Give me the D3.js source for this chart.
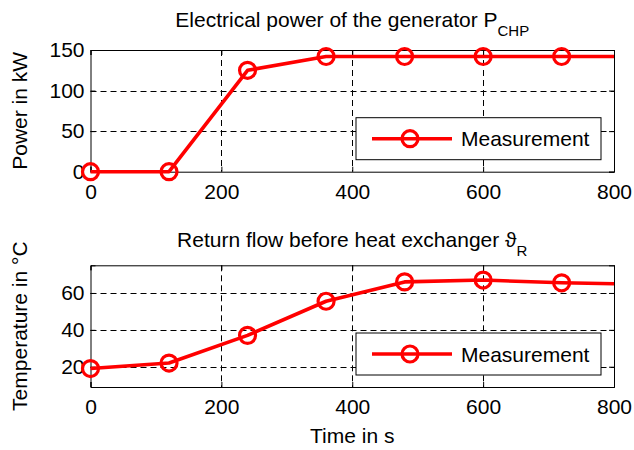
<!DOCTYPE html>
<html>
<head>
<meta charset="utf-8">
<script src="https://cdn.jsdelivr.net/npm/d3@7"></script>
<style>
	body { margin: 0; background: #fff; }
	svg { display: block; font-family: "Liberation Sans", Arial, sans-serif; }
</style>
</head>
<body>
<div id="chart"></div>
<script>
'use strict';

// measurement samples, one every 120 s, last value held to 800 s
const times = [0, 120, 240, 360, 480, 600, 720, 800];
const powerKW = [0, 0, 125, 142, 142, 142, 142, 142];
const returnTemp = [19, 22, 37, 55.5, 66, 67, 65.5, 65];
const markerTimes = [0, 120, 240, 360, 480, 600, 720];

const xTicks = [0, 200, 400, 600, 800];
const powerTicks = [0, 50, 100, 150];
const tempTicks = [20, 40, 60];
const legendLabel = "Measurement";

const width = 634, height = 450;
const red = "#ff0000";

const svg = d3.select("#chart")
	.append("svg")
		.attr("width", width)
		.attr("height", height)
		;

function drawPanel(opt)
{
	const x = d3.scaleLinear()
		.domain([0, 800])
		.range([90.5, 614]);
	const y = d3.scaleLinear()
		.domain(opt.yDomain)
		.range([opt.bottom, opt.top]);

	const g = svg.append("g");
	const [x0, x1] = x.range();

	// dashed grid
	g.append("g")
		.selectAll("line")
		.data(xTicks.filter(t => t > 0 && t < 800))
		.join("line")
			.attr("x1", d => Math.round(x(d)) + 0.5).attr("x2", d => Math.round(x(d)) + 0.5)
			.attr("y1", opt.top).attr("y2", opt.bottom)
			.attr("stroke", "#000")
			.attr("stroke-width", 1)
			.attr("stroke-dasharray", "6,4")
			;
	g.append("g")
		.selectAll("line")
		.data(opt.yTicks.filter(t => t > opt.yDomain[0] && t < opt.yDomain[1]))
		.join("line")
			.attr("x1", x0).attr("x2", x1)
			.attr("y1", d => Math.round(y(d)) + 0.5).attr("y2", d => Math.round(y(d)) + 0.5)
			.attr("stroke", "#000")
			.attr("stroke-width", 1)
			.attr("stroke-dasharray", "6,4")
			;

	// axes, ticks inside, mirrored on top/right
	const tickLen = 5;
	const axB = g.append("g")
		.attr("transform", `translate(0,${opt.bottom})`)
		.call(d3.axisBottom(x).tickValues(xTicks).tickSize(-tickLen).tickPadding(7));
	const axT = g.append("g")
		.attr("transform", `translate(0,${opt.top})`)
		.call(d3.axisTop(x).tickValues(xTicks).tickSize(-tickLen).tickFormat(""));
	const axL = g.append("g")
		.attr("transform", `translate(${x0},0)`)
		.call(d3.axisLeft(y).tickValues(opt.yTicks).tickSize(-tickLen).tickPadding(6));
	const axR = g.append("g")
		.attr("transform", `translate(${x1},0)`)
		.call(d3.axisRight(y).tickValues(opt.yTicks).tickSize(-tickLen).tickFormat(""));
	[axB, axT, axL, axR].forEach(a => {
		a.select(".domain").attr("stroke", "#000").attr("stroke-width", 1);
		a.selectAll(".tick line").attr("stroke", "#000");
		a.selectAll("text")
			.attr("font-size", 21)
			.attr("font-family", "Liberation Sans, Arial, sans-serif")
			.attr("fill", "#000");
	});
	axB.selectAll("text").attr("dy", "0.95em");

	// data line and markers
	const line = d3.line()
		.x(d => x(d[0]))
		.y(d => y(d[1]));
	const pts = times.map((t, i) => [t, opt.values[i]]);
	g.append("path")
		.datum(pts)
		.attr("d", line)
		.attr("fill", "none")
		.attr("stroke", red)
		.attr("stroke-width", 3.6)
		.attr("stroke-linejoin", "round")
		;
	g.append("g")
		.selectAll("circle")
		.data(pts.filter(p => markerTimes.includes(p[0])))
		.join("circle")
			.attr("cx", d => x(d[0]))
			.attr("cy", d => y(d[1]))
			.attr("r", 8)
			.attr("fill", "none")
			.attr("stroke", red)
			.attr("stroke-width", 3.2)
			;

	// title with subscript
	const title = g.append("text")
		.attr("x", (x0 + x1) / 2)
		.attr("y", opt.titleY)
		.attr("text-anchor", "middle")
		.attr("font-size", 21)
		.attr("fill", "#000");
	title.append("tspan").text(opt.title);
	title.append("tspan")
		.attr("dy", 9)
		.attr("font-size", 15)
		.text(opt.sub);

	// y label
	g.append("text")
		.attr("transform", `translate(27,${(opt.top + opt.bottom) / 2}) rotate(-90)`)
		.attr("text-anchor", "middle")
		.attr("font-size", 21)
		.attr("fill", "#000")
		.text(opt.yLabel);

	// legend box, lower right
	const lw = 245, lh = 42;
	const lx = x1 - 13 - lw, ly = opt.bottom - 12 - lh;
	const leg = g.append("g").attr("transform", `translate(${lx},${ly})`);
	leg.append("rect")
		.attr("width", lw).attr("height", lh)
		.attr("fill", "#fff")
		.attr("stroke", "#000")
		.attr("stroke-width", 1);
	leg.append("line")
		.attr("x1", 16).attr("x2", 96)
		.attr("y1", lh / 2).attr("y2", lh / 2)
		.attr("stroke", red)
		.attr("stroke-width", 3.6);
	leg.append("circle")
		.attr("cx", 54).attr("cy", lh / 2).attr("r", 8)
		.attr("fill", "none")
		.attr("stroke", red)
		.attr("stroke-width", 3.2);
	leg.append("text")
		.attr("x", 105).attr("y", lh / 2)
		.attr("dy", "0.36em")
		.attr("font-size", 21)
		.attr("fill", "#000")
		.text(legendLabel);

	return x;
}

const xs = drawPanel({
	top: 50, bottom: 171.7,
	yDomain: [0, 150], yTicks: powerTicks, values: powerKW,
	title: "Electrical power of the generator P", sub: "CHP", titleY: 27,
	yLabel: "Power in kW" });

drawPanel({
	top: 265.3, bottom: 387,
	yDomain: [9, 75], yTicks: tempTicks, values: returnTemp,
	title: "Return flow  before heat exchanger \u03D1", sub: "R", titleY: 247,
	yLabel: "Temperature in \u00B0C" });

svg.append("text")
	.attr("x", (xs(0) + xs(800)) / 2)
	.attr("y", 443)
	.attr("text-anchor", "middle")
	.attr("font-size", 21)
	.attr("fill", "#000")
	.text("Time in s");
</script>
</body>
</html>
